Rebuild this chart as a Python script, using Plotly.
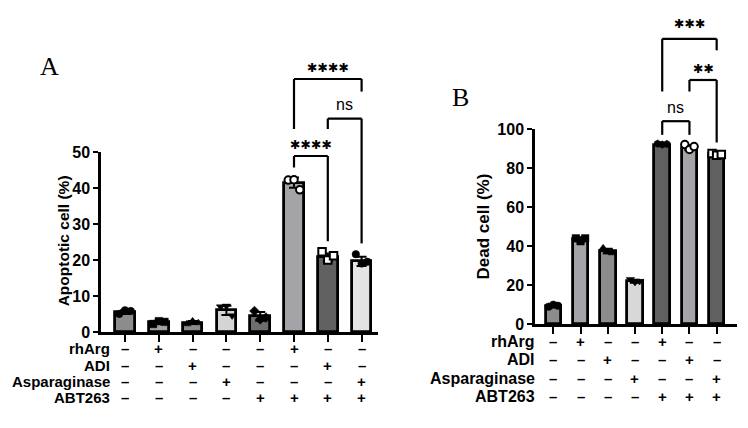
import plotly.graph_objects as go

W, H = 748, 428

# ---------------- data ----------------
labels_rows = ["rhArg", "ADI", "Asparaginase", "ABT263"]

a_means = [5.5, 2.7, 2.6, 6.0, 4.3, 41.5, 20.8, 19.6]
a_sd = [0.5, 0.4, 0.4, 1.3, 1.2, 1.4, 1.0, 1.3]
a_points = [[5.0, 6.0, 5.8], [2.2, 3.0, 2.8], [2.2, 3.0, 2.5], [7.0, 7.2, 4.5],
            [5.8, 3.5, 4.0], [42.2, 42.3, 39.5], [22.3, 20.0, 21.2], [21.6, 19.0, 19.5]]
a_colors = ["#8c8c8c", "#a2a2a4", "#8c8c8c", "#d4d4d4", "#6e6e6e", "#a4a4a8", "#606060", "#e4e4e4"]
a_symbols = ["circle", "square", "triangle-up", "triangle-down", "diamond", "circle", "square", "circle"]
a_open = [False, False, False, False, False, True, True, False]
a_table = [["–", "+", "–", "–", "–", "+", "–", "–"],
           ["–", "–", "+", "–", "–", "–", "+", "–"],
           ["–", "–", "–", "+", "–", "–", "–", "+"],
           ["–", "–", "–", "–", "+", "+", "+", "+"]]

b_means = [9.5, 43.5, 37.5, 22.0, 92.0, 90.5, 87.0]
b_sd = [0.5, 1.0, 1.2, 0.8, 0.3, 1.2, 0.6]
b_points = [[9.0, 10.0, 9.5], [44.0, 42.5, 44.0], [39.0, 37.0, 36.5], [23.0, 21.5, 22.0],
            [92.5, 92.0, 92.3], [92.0, 89.5, 91.0], [87.5, 86.5, 87.0]]
b_colors = ["#8c8c8c", "#a4a4a8", "#8c8c8c", "#d8d8d8", "#606060", "#a4a4a8", "#606060"]
b_symbols = ["circle", "square", "triangle-up", "triangle-down", "hexagon", "circle", "square"]
b_open = [False, False, False, False, False, True, True]
b_table = [["–", "+", "–", "–", "+", "–", "–"],
           ["–", "–", "+", "–", "–", "+", "–"],
           ["–", "–", "–", "+", "–", "–", "+"],
           ["–", "–", "–", "–", "+", "+", "+"]]

# significance: (x1, x2, y_bar, y_leg1, y_leg2, label, y_text)
a_sig = [(5, 7, 70.3, 56.4, 66.8, "✱✱✱✱", 73.4),
         (5, 6, 48.9, 45.7, 25.2, "✱✱✱✱", 52.2),
         (6, 7, 59.3, 56.4, 24.6, "ns", 63.3)]
b_sig = [(4, 6, 146.2, 119.2, 140.3, "✱✱✱", 153.8),
         (5, 6, 125.1, 119.2, 93.1, "✱✱", 131.2),
         (4, 5, 104.0, 97.0, 97.0, "ns", 111.0)]

# ---------------- layout geometry (pixels) ----------------
def px(x):
    return x / W

def py(y):
    return 1 - y / H

A = dict(xa="x", ya="y", x0=101, x1=378, c0=125, step=33.8, ybot=337.3, ytop=150.0, ymax=50,
         yticks=[0, 10, 20, 30, 40, 50], rows=[355, 372, 389, 406], lab_x=112,
         title="Apoptotic cell (%)", title_x=63, title_y=243, title_size=15.5, tab_size=15,
         letter="A", letter_xy=(49, 61))
B = dict(xa="x2", ya="y2", x0=535, x1=737, c0=553.3, step=27.23, ybot=329.3, ytop=126.0, ymax=100,
         yticks=[0, 20, 40, 60, 80, 100], rows=[347, 366, 386, 405], lab_x=537,
         title="Dead cell (%)", title_x=483, title_y=227.5, title_size=17, tab_size=16,
         letter="B", letter_xy=(460, 93))

fig = go.Figure()
shapes, annos = [], []
FONT = "Liberation Sans, Arial, sans-serif"


def add_panel(P, means, sd, points, colors, symbols, opened, table, sig, bar_w, msize):
    n = len(means)
    xs = list(range(n))
    fig.add_trace(go.Bar(
        x=xs, y=means, xaxis=P["xa"], yaxis=P["ya"], width=bar_w,
        marker=dict(color=colors, line=dict(color="black", width=2.8)),
        error_y=dict(type="data", array=sd, color="black", thickness=2, width=5),
        showlegend=False, hoverinfo="skip"))
    offs = [-0.17, 0.0, 0.17]
    for i in range(n):
        fig.add_trace(go.Scatter(
            x=[i + o for o in offs], y=points[i], mode="markers",
            xaxis=P["xa"], yaxis=P["ya"], showlegend=False, hoverinfo="skip", cliponaxis=False,
            marker=dict(symbol=symbols[i], size=msize,
                        color="white" if opened[i] else "black",
                        line=dict(color="black", width=2 if opened[i] else 0.5))))
    # brackets
    xr = P["xa"]
    yr = P["ya"] + " domain"
    ym = P["ymax"]
    for (a, b, yb, l1, l2, lab, yt) in sig:
        for (xa0, ya0, xa1, ya1) in [(a, l1, a, yb), (a, yb, b, yb), (b, yb, b, l2)]:
            shapes.append(dict(type="line", xref=xr, yref=yr, x0=xa0, x1=xa1,
                               y0=ya0 / ym, y1=ya1 / ym, line=dict(color="black", width=2.2)))
        is_ns = lab == "ns"
        annos.append(dict(xref=xr, yref=yr, x=(a + b) / 2, y=yt / ym, text=lab, showarrow=False,
                          xanchor="center", yanchor="middle",
                          font=dict(family=FONT if is_ns else "DejaVu Sans", size=16 if is_ns else 12.5,
                                    color="black")))
    # table
    for r, (lab, row) in enumerate(zip(labels_rows, table)):
        yy = py(P["rows"][r])
        annos.append(dict(xref="paper", yref="paper", x=px(P["lab_x"]), y=yy, text="<b>%s</b>" % lab,
                          showarrow=False, xanchor="right", yanchor="middle",
                          font=dict(family=FONT, size=P["tab_size"], color="black")))
        for i, s in enumerate(row):
            annos.append(dict(xref=xr, yref="paper", x=i, y=yy, text="<b>%s</b>" % s,
                              showarrow=False, xanchor="center", yanchor="middle",
                              font=dict(family=FONT, size=15, color="black")))
    # y title
    annos.append(dict(xref="paper", yref="paper", x=px(P["title_x"]), y=py(P["title_y"]),
                      text="<b>%s</b>" % P["title"], textangle=-90, showarrow=False,
                      xanchor="center", yanchor="middle",
                      font=dict(family=FONT, size=P["title_size"], color="black")))
    # panel letter
    annos.append(dict(xref="paper", yref="paper", x=px(P["letter_xy"][0]), y=py(P["letter_xy"][1]),
                      text=P["letter"], showarrow=False, xanchor="center", yanchor="middle",
                      font=dict(family="Liberation Serif, Times New Roman, serif", size=26, color="black")))


add_panel(A, a_means, a_sd, a_points, a_colors, a_symbols, a_open, a_table, a_sig, 0.58, 7.5)
add_panel(B, b_means, b_sd, b_points, b_colors, b_symbols, b_open, b_table, b_sig, 0.57, 7.5)


def xaxis_cfg(P, n):
    lo = (P["x0"] - P["c0"]) / P["step"]
    hi = (P["x1"] - P["c0"]) / P["step"]
    return dict(domain=[px(P["x0"]), px(P["x1"])], range=[lo, hi], showgrid=False, zeroline=False,
                showline=True, linecolor="black", linewidth=2.5, ticks="outside", ticklen=7,
                tickwidth=2, tickcolor="black", tickvals=list(range(n)), showticklabels=False,
                fixedrange=True)


def yaxis_cfg(P):
    return dict(domain=[py(P["ybot"]), py(P["ytop"])], range=[0, P["ymax"]], showgrid=False,
                zeroline=False, showline=True, linecolor="black", linewidth=2.5, ticks="outside",
                ticklen=5, tickwidth=2, tickcolor="black", tickvals=P["yticks"],
                tickfont=dict(family=FONT, size=16, color="black", weight="bold"), fixedrange=True)


xa = xaxis_cfg(A, len(a_means)); xa["anchor"] = "y"
ya = yaxis_cfg(A); ya["anchor"] = "x"
xb = xaxis_cfg(B, len(b_means)); xb["anchor"] = "y2"
yb = yaxis_cfg(B); yb["anchor"] = "x2"

fig.update_layout(
    width=W, height=H, margin=dict(l=0, r=0, t=0, b=0),
    paper_bgcolor="white", plot_bgcolor="white",
    xaxis=xa, yaxis=ya, xaxis2=xb, yaxis2=yb,
    shapes=shapes, annotations=annos, showlegend=False, bargap=0,
)

fig.write_html("out.html")
